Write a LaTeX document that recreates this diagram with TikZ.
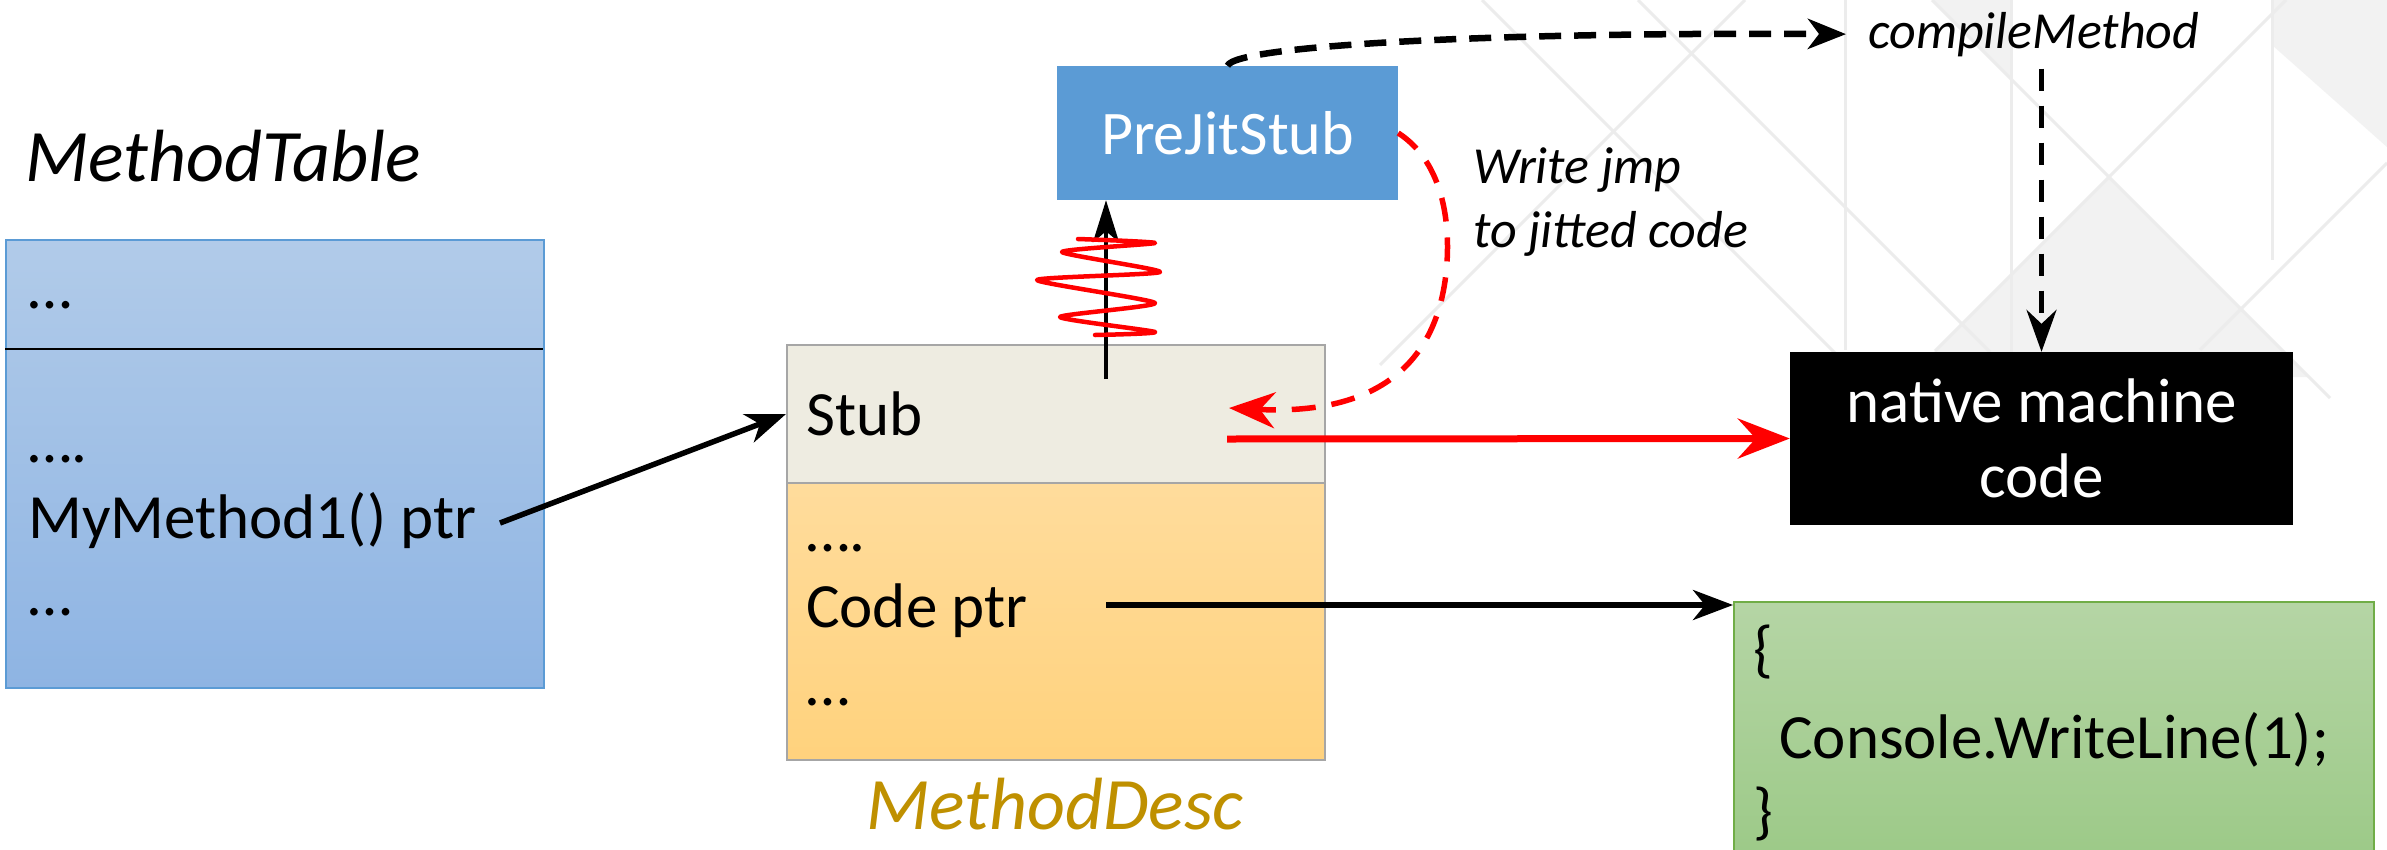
\documentclass[tikz,border=0pt]{standalone}
\usepackage{fontspec}
\setmainfont{Carlito}
\usetikzlibrary{arrows.meta}

\definecolor{mtTop}{HTML}{B1CBE9}
\definecolor{mtBot}{HTML}{8EB4E3}
\definecolor{mtLine}{HTML}{5B9BD5}
\definecolor{stubFill}{HTML}{EEECE1}
\definecolor{boxGray}{HTML}{A6A6A6}
\definecolor{orTop}{HTML}{FFDC9C}
\definecolor{orBot}{HTML}{FFD27D}
\definecolor{grTop}{HTML}{B5D5A5}
\definecolor{grBot}{HTML}{9BC986}
\definecolor{grLine}{HTML}{70AD47}
\definecolor{descGold}{HTML}{BF9000}
\definecolor{jitBlue}{HTML}{5B9BD5}
\definecolor{bgLine}{HTML}{ECECEC}
\definecolor{bgFill}{HTML}{F2F2F2}
\definecolor{hotRed}{HTML}{FF0000}

\newcommand\setfs[1]{\fontsize{#1}{#1}\selectfont}

\begin{document}
\begin{tikzpicture}[x=1pt,y=-1pt,
  txt/.style={inner sep=0pt, anchor=base west, font=\setfs{63}},
  note/.style={inner sep=0pt, anchor=base west, font=\itshape\setfs{52}},
  title/.style={inner sep=0pt, anchor=base west, font=\itshape\setfs{74}},
  bgline/.style={draw=bgLine, line width=3pt},
  sect/.style={draw=boxGray, line width=2pt, anchor=north west, minimum width=538pt, inner sep=0pt},
  blkarrow/.style={draw=black, line width=5.5pt, -{Stealth[length=40pt,width=30pt,inset=12pt]}},
]
\useasboundingbox (0,0) rectangle (2387,849);
\fill[white] (0,0) rectangle (2387,849);

% faint lattice in the background
\fill[bgFill] (2109,177) -- (1909,377) -- (2309,377) -- cycle;
\fill[bgFill] (2272,0) -- (2387,0) -- (2387,147) -- (2272,45) -- cycle;
\fill[bgFill] (1932,0) -- (2011,0) -- (2011,79) -- cycle;
\draw[bgline] (1845,0) -- (1845,350);
\draw[bgline] (2011,0) -- (2011,380);
\draw[bgline] (2272,0) -- (2272,260);
\draw[bgline] (1482,0) -- (1848,366);
\draw[bgline] (1745,0) -- (1380,365);
\draw[bgline] (1638,0) -- (1990,352);
\draw[bgline] (1932,0) -- (2330,398);
\draw[bgline] (2286,0) -- (1935,351);
\draw[bgline] (2387,163) -- (2200,350);

% MethodTable
\node[title] (mtlabel) at (25,181) {MethodTable};
\node[draw=mtLine, line width=2pt, top color=mtTop, bottom color=mtBot,
      anchor=north west, minimum width=538pt, minimum height=448pt, inner sep=0pt] (mt) at (5,239) {};
\draw[black, line width=2pt] (5,349) -- (543,349);
\node[txt] (mtA) at (28,308) {…};
\node[txt] (mtB) at (28,462) {….};
\node[txt] (mym) at (28,538) {MyMethod1() ptr};
\node[txt] (mtC) at (28,615) {…};

% MethodDesc
\node[sect, fill=stubFill, minimum height=138pt] (stub) at (786,344) {};
\node[sect, top color=orTop, bottom color=orBot, minimum height=277pt] (desc) at (786,482) {};
\node[txt] (stubT) at (806,435) {Stub};
\node[txt] (descA) at (806,551) {….};
\node[txt] (codeptr) at (806,627) {Code ptr};
\node[txt] (descB) at (806,705) {…};
\node[title, text=descGold] (desclabel) at (866,829) {MethodDesc};

% PreJitStub
\node[fill=jitBlue, text=white, font=\setfs{62}, minimum width=341pt, minimum height=134pt, inner sep=0pt]
  (prejit) at (1227.5,133) {PreJitStub};

% compileMethod and native code
\node[inner xsep=22pt, inner ysep=0pt, anchor=base west, font=\itshape\setfs{52}]
  (compile) at (1846,48) {compileMethod};
\node[fill=black, text=white, align=center, font=\fontsize{63}{75}\selectfont,
      minimum width=503pt, minimum height=173pt, inner sep=0pt]
  (native) at (2041.5,438.5) {native machine\\code};

% jitted method body
\node[draw=grLine, line width=2pt, top color=grTop, bottom color=grBot, anchor=north west,
      minimum width=640pt, minimum height=270pt, inner sep=0pt] (green) at (1733,601) {};
\node[txt] (brOpen) at (1753,670) {\{};
\node[txt] (console) at (1779,758) {Console.WriteLine(1);};
\node[txt] (brClose) at (1753,832) {\}};

% note beside the patch arrow
\node[note] (noteA) at (1473,183) {Write jmp};
\node[note] (noteB) at (1473,247) {to jitted code};

% connectors
\coordinate (mymOut) at (500,523);
\coordinate (upFrom) at (1106,379);
\coordinate (redFrom) at (1227,439);
\coordinate (cpFrom) at (1106,605);
\coordinate (jmpTo) at (1229,408);

\draw[blkarrow] (mymOut) -- (stub.west);
\draw[blkarrow] (cpFrom) -- (cpFrom -| green.west);
\draw[line width=4.5pt, -{Stealth[length=42pt,width=26pt,inset=11pt]}] (upFrom) -- (upFrom |- prejit.south);
\draw[hotRed, line width=7pt, -{Stealth[length=52pt,width=40pt,inset=18pt]}] (redFrom) -- (native.west);

\draw[line width=6.5pt, dash pattern=on 22pt off 13pt, -{Stealth[length=38pt,width=30pt,inset=11pt]}]
  (prejit.north) .. controls (1235,45) and (1500,32) .. (compile.west);
\draw[line width=4.5pt, dash pattern=on 22pt off 15pt, shorten <=12pt, -{Stealth[length=42pt,width=30pt,inset=14pt]}]
  (native.north |- compile.south) -- (native.north);

\draw[hotRed, line width=5.5pt, dash pattern=on 24pt off 16pt, -{Stealth[length=46pt,width=36pt,inset=15pt]}]
  (prejit.east) .. controls (1440,160) and (1450,215) .. (1447,262)
  .. controls (1440,370) and (1370,415) .. (jmpTo);

% the blocked first call
\draw[hotRed, line width=4.5pt, line join=round, line cap=round]
  plot[smooth, tension=0.35] coordinates {(1078,239) (1155,243) (1062,252) (1160,272)
    (1037,280) (1155,303) (1060,317) (1155,332) (1095,335)};
\end{tikzpicture}
\end{document}
